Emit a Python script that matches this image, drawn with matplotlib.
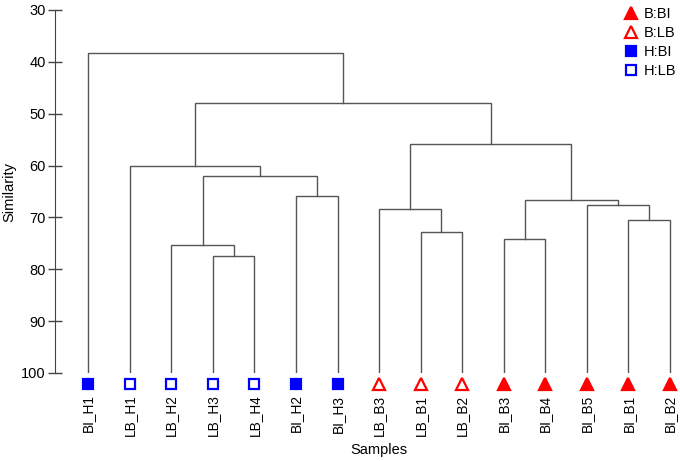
import matplotlib
matplotlib.use('Agg')
from matplotlib import pyplot as plt
from matplotlib.lines import Line2D

plt.rcParams['font.family'] = ['Liberation Sans', 'DejaVu Sans']

# ── data ────────────────────────────────────────────────────────────────────
LEAVES = ['BI_H1', 'LB_H1', 'LB_H2', 'LB_H3', 'LB_H4', 'BI_H2', 'BI_H3',
          'LB_B3', 'LB_B1', 'LB_B2', 'BI_B3', 'BI_B4', 'BI_B5', 'BI_B1', 'BI_B2']
GROUPS = ['H:BI', 'H:LB', 'H:LB', 'H:LB', 'H:LB', 'H:BI', 'H:BI',
          'B:LB', 'B:LB', 'B:LB', 'B:BI', 'B:BI', 'B:BI', 'B:BI', 'B:BI']

# merges: (child a, child b, similarity); new cluster ids start at len(LEAVES)
MERGES = [
    (3, 4, 77.4),     # 15
    (2, 15, 75.3),    # 16
    (5, 6, 65.8),     # 17
    (16, 17, 62.1),   # 18
    (1, 18, 60.0),    # 19
    (8, 9, 72.75),    # 20
    (7, 20, 68.4),    # 21
    (10, 11, 74.2),   # 22
    (13, 14, 70.5),   # 23
    (12, 23, 67.6),   # 24
    (22, 24, 66.6),   # 25
    (21, 25, 55.9),   # 26
    (19, 26, 47.9),   # 27
    (0, 27, 38.35),   # 28
]

# group styles: (marker, colour, filled)
STYLES = {
    'B:BI': ('^', 'red', True),
    'B:LB': ('^', 'red', False),
    'H:BI': ('s', 'blue', True),
    'H:LB': ('s', 'blue', False),
}
LEGEND_ORDER = ['B:BI', 'B:LB', 'H:BI', 'H:LB']

LINE_C = '#555555'
FS = 10.5

fig = plt.figure(figsize=(6.8, 4.61), dpi=100)
ax = fig.add_axes([55 / 680, 88 / 461, 625 / 680, 363 / 461])

# ── dendrogram links ────────────────────────────────────────────────────────
xpos = {i: float(i) for i in range(len(LEAVES))}
hgt = {i: 100.0 for i in range(len(LEAVES))}
for k, (a, b, h) in enumerate(MERGES):
    xa, xb = xpos[a], xpos[b]
    ax.plot([xa, xa, xb, xb], [hgt[a], h, h, hgt[b]], color=LINE_C, lw=1.0,
            solid_joinstyle='miter')
    nid = len(LEAVES) + k
    xpos[nid] = (xa + xb) / 2
    hgt[nid] = h

# ── leaf markers ────────────────────────────────────────────────────────────
for i, g in enumerate(GROUPS):
    m, c, filled = STYLES[g]
    ms = 8.5 if m == '^' else 6.8
    ax.plot(i, 102.1, m, ms=ms, mec=c, mfc=c if filled else 'white',
            mew=1.6, clip_on=False, zorder=5)

ax.set_xlim(-0.8, 14.24)
ax.set_ylim(100, 30)
ax.set_yticks(range(30, 101, 10))
ax.tick_params(axis='y', direction='inout', length=9.5, width=1.0,
               color='#444444', labelsize=FS, pad=2)
ax.set_xticks(range(len(LEAVES)))
ax.set_xticklabels(LEAVES, rotation=90, fontsize=9.8)
ax.tick_params(axis='x', length=0, pad=15.5)

for s in ['top', 'right', 'bottom']:
    ax.spines[s].set_visible(False)
ax.spines['left'].set_color('#444444')

ax.set_ylabel('Similarity', fontsize=FS)
ax.set_xlabel('Samples', fontsize=FS)
ax.xaxis.set_label_coords((379 - 55) / 625, -(443 - 373) / 363)
ax.yaxis.set_label_coords((16 - 55) / 625, 0.5)

# ── legend ──────────────────────────────────────────────────────────────────
handles = []
for g in LEGEND_ORDER:
    m, c, filled = STYLES[g]
    ms = 9 if m == '^' else 7
    handles.append(Line2D([], [], ls='none', marker=m, ms=ms, mec=c,
                          mfc=c if filled else 'white', mew=1.6, label=g))
ax.legend(handles=handles, loc='upper right', bbox_to_anchor=(1.008, 1.032),
          frameon=False, fontsize=FS, handlelength=0.8, handletextpad=0.5,
          labelspacing=0.34, borderaxespad=0.2)

fig.savefig('out.png', dpi=100)
